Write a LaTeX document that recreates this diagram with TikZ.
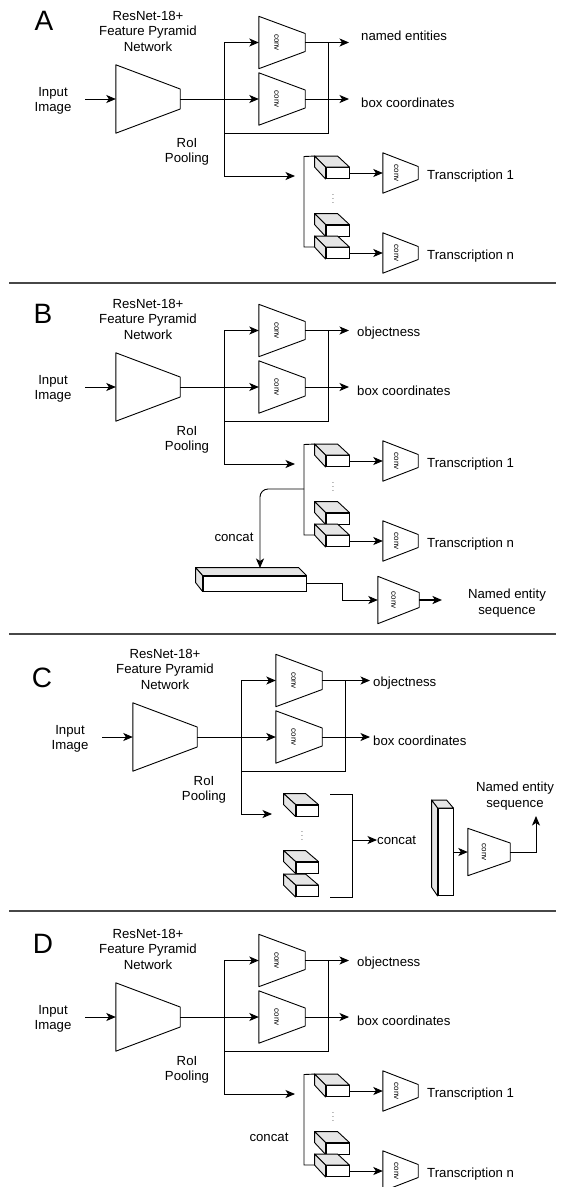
\documentclass[tikz,border=0pt]{standalone}
\usepackage{fontspec}
\setmainfont{Liberation Sans}
\usetikzlibrary{arrows.meta,calc}
\tikzset{
  lbl/.style={font=\fontsize{13.2}{15.5}\selectfont, align=center, inner sep=0pt},
  big/.style={font=\fontsize{28}{30}\selectfont, inner sep=0pt},
  convtxt/.style={font=\fontsize{8}{8}\selectfont, inner sep=0pt, rotate=-90},
  arr/.style={-{Stealth[length=9.5pt,width=8pt,inset=2.5pt]}},
  ln/.style={line width=0.9pt},
  sepline/.style={line width=1.2pt, draw=black!72},
  face/.style={fill=black!10, line join=round},
}
% trapezoid: name, centre, width, left height, right height
\newcommand\mkTrap[5]{%
  \node[minimum width=#3, minimum height=#4, inner sep=0pt] (#1) at #2 {};
  \draw[ln, line join=round, fill=white] (#1.north west) -- ($(#1.east)+(0,-#5/2)$) -- ($(#1.east)+(0,#5/2)$) -- (#1.south west) -- cycle;
}
\newcommand\mkConv[5]{%
  \mkTrap{#1}{#2}{#3}{#4}{#5}
  \node[convtxt] (#1-t) at ($(#1.west)!0.38!(#1.east)$) {conv};
}
% cube: name, front centre, w, h, dx, dy
\newcommand\mkCube[6]{%
  \node[draw, ln, fill=white, minimum width=#3, minimum height=#4, inner sep=0pt] (#1) at #2 {};
  \coordinate (#1-bk) at ($(#1.north west)+(#5,#6)$);
  \draw[ln, face] (#1.north west) -- (#1-bk) -- ++(#3,0) -- (#1.north east) -- cycle;
  \draw[ln, face] (#1.north west) -- (#1-bk) -- ++(0,#4) -- (#1.south west) -- cycle;
}
% top block: prefix, first output label, arrow tip x, text x, label1 baseline
\newcommand\mkTop[5]{%
  \node[lbl] (#1in) at (53,101) {Input\\Image};
  \node[lbl] (#1res) at (148,31) {ResNet-18+\\Feature Pyramid\\Network};
  \mkTrap{#1enc}{(148,99)}{64}{68}{20}
  \mkConv{#1c1}{(282,42.5)}{46}{52}{18}
  \mkConv{#1c2}{(282,99)}{46}{52}{18}
  \coordinate (#1vt) at (224,42.5);
  \coordinate (#1vb) at (224,176);
  \coordinate (#1lp) at (328,133);
  \coordinate (#1o1) at (#3,42.5);
  \coordinate (#1o2) at (#3,99);
  \coordinate (#1ia) at (85,99);
  \draw[ln,arr] (#1ia) -- (#1enc.west);
  \draw[ln,arr] (#1enc.east) -- (#1c2.west);
  \draw[ln,arr] (#1vt) -- (#1c1.west);
  \draw[ln] (#1vt) -- (#1vb);
  \draw[ln,arr] (#1c1.east) -- (#1o1);
  \draw[ln,arr] (#1c2.east) -- (#1o2);
  \draw[ln] (#1c1.east -| #1lp) -- (#1lp) -- (#1lp -| #1vt);
  \node[lbl] (#1roi) at (187,152) {RoI\\Pooling};
  \node[lbl, anchor=base west] (#1t1) at (#4,#5) {#2};
  \node[lbl, anchor=base west] (#1t2) at (#4,107) {box coordinates};
}
% lower block for A, B, D
\newcommand\mkLow[1]{%
  \coordinate (#1ra) at (295,176);
  \draw[ln,arr] (#1vb) -- (#1ra);
  \mkCube{#1b1}{(337.5,173)}{23}{11}{-11}{-11}
  \mkCube{#1b2}{(337.5,230.5)}{23}{11}{-11}{-11}
  \mkCube{#1b3}{(337.5,253)}{23}{11}{-11}{-11}
  \node[inner sep=0pt, font=\fontsize{7}{7}\selectfont] (#1dots) at (333,196) {$\vdots$};
  \coordinate (#1kt) at (304,156.5);
  \coordinate (#1kb) at (304,247);
  \draw[ln] (#1b1-bk) -- (#1kt) -- (#1kb) -- (#1b3-bk |- #1kb);
  \mkConv{#1c3}{(400.5,173)}{35}{40}{13}
  \mkConv{#1c4}{(400.5,253)}{35}{40}{13}
  \draw[ln,arr] (#1b1.east) -- (#1c3.west);
  \draw[ln,arr] (#1b3.east) -- (#1c4.west);
  \node[lbl, anchor=base west] (#1tr1) at (427,179) {Transcription 1};
  \node[lbl, anchor=base west] (#1trn) at (427,259) {Transcription n};
}
\begin{document}
\begin{tikzpicture}[x=1pt,y=-1pt]
\useasboundingbox (0,0) rectangle (565,1187);
% separators
\coordinate (s1a) at (9,283); \coordinate (s1b) at (556,283);
\coordinate (s2a) at (9,634); \coordinate (s2b) at (556,634);
\coordinate (s3a) at (9,911); \coordinate (s3b) at (556,911);
\draw[sepline] (s1a) -- (s1b);
\draw[sepline] (s2a) -- (s2b);
\draw[sepline] (s3a) -- (s3b);
% panel letters
\node[big] (LA) at (44,21) {A};
\node[big] (LB) at (43,314) {B};
\node[big] (LC) at (42,678) {C};
\node[big] (LD) at (43,944) {D};
% ---------- A ----------
\mkTop{A}{named entities}{349}{361}{40}
\mkLow{A}
% ---------- B ----------
\begin{scope}[shift={(0,288)}]
\mkTop{B}{objectness}{349}{357}{48}
\mkLow{B}
\coordinate (Bkm) at (304,201);
\mkCube{Blb}{(254.5,295.5)}{103}{15}{-7}{-8}
\coordinate (Bct) at (260,280);
\draw[ln,arr,rounded corners=8pt] (Bkm) -| (Bct);
\node[lbl] (Bcc) at (234,249) {concat};
\mkConv{Bc5}{(398.5,312)}{41}{47}{15}
\draw[ln,arr] (Blb.east) -- ++(36,0) |- (Bc5.west);
\coordinate (Bne) at (442,312);
\draw[arr,line width=1.8pt] (Bc5.east) -- (Bne);
\node[lbl] (Bnes) at (507,315) {Named entity\\sequence};
\end{scope}
% ---------- C ----------
\begin{scope}[shift={(17,638)}]
\mkTop{C}{objectness}{353}{356}{48}
\end{scope}
\coordinate (Cra) at (272,814);
\draw[ln,arr] (Cvb) -- (Cra);
\mkCube{Cb1}{(307,810.5)}{22}{11}{-12}{-11}
\mkCube{Cb2}{(307,867.5)}{22}{11}{-12}{-11}
\mkCube{Cb3}{(307,891)}{22}{11}{-12}{-11}
\node[inner sep=0pt, font=\fontsize{7}{7}\selectfont] (Cdots) at (302,833) {$\vdots$};
\coordinate (Ck1) at (330,794); \coordinate (Ck2) at (352,794);
\coordinate (Ck3) at (352,897); \coordinate (Ck4) at (330,897);
\draw[ln] (Ck1) -- (Ck2) -- (Ck3) -- (Ck4);
\coordinate (Ckm) at (352,840);
\node[lbl, anchor=west] (Ccc) at (377,840) {concat};
\draw[ln,arr] (Ckm) -- (Ccc.west);
\mkCube{Ctb}{(445.5,852)}{15}{87}{-6}{-8}
\mkConv{Cc5}{(489,852)}{42}{47}{18}
\draw[ln,arr] (Ctb.east) -- (Cc5.west);
\coordinate (Cne) at (536,816);
\draw[ln,arr] (Cc5.east) -| (Cne);
\node[lbl] (Cnes) at (515,796) {Named entity\\sequence};
% ---------- D ----------
\begin{scope}[shift={(0,918)}]
\mkTop{D}{objectness}{349}{357}{48}
\mkLow{D}
\node[lbl] (Dcc) at (269,219) {concat};
\end{scope}
\end{tikzpicture}
\end{document}
